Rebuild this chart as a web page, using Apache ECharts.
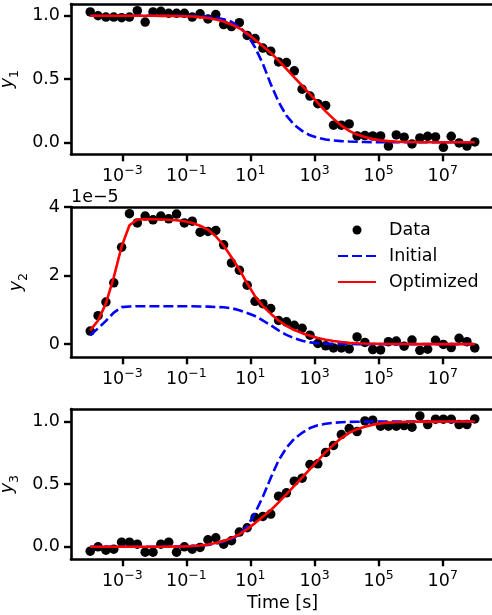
<!DOCTYPE html>
<html>
<head>
<meta charset="utf-8">
<script src="https://cdn.jsdelivr.net/npm/echarts@6.0.0/dist/echarts.min.js"></script>
<style>
  html, body { margin: 0; padding: 0; background: #fff; }
  #chart { width: 492px; height: 615px; }
</style>
</head>
<body>
<div id="chart"></div>
<script>
// log10 of the sample times [s]
const timeExp = [-4, -3.7551, -3.5102, -3.2653, -3.0204, -2.7755, -2.5306, -2.2857, -2.0408, -1.7959,
  -1.5510, -1.3061, -1.0612, -0.8163, -0.5714, -0.3265, -0.0816, 0.1633, 0.4082, 0.6531,
  0.8980, 1.1429, 1.3878, 1.6327, 1.8776, 2.1224, 2.3673, 2.6122, 2.8571, 3.1020,
  3.3469, 3.5918, 3.8367, 4.0816, 4.3265, 4.5714, 4.8163, 5.0612, 5.3061, 5.5510,
  5.7959, 6.0408, 6.2857, 6.5306, 6.7755, 7.0204, 7.2653, 7.5102, 7.7551, 8];

const y1Data = [1.03, 1.00, 0.99, 0.99, 0.985, 0.99, 1.04, 0.95, 1.03, 1.035,
  1.02, 1.02, 1.02, 0.99, 1.015, 0.975, 1.01, 0.93, 0.915, 0.945,
  0.845, 0.82, 0.745, 0.72, 0.635, 0.63, 0.565, 0.42, 0.365, 0.305,
  0.29, 0.135, 0.135, 0.145, 0.05, 0.053, 0.05, 0.05, -0.03, 0.058,
  0.04, -0.013, 0.034, 0.047, 0.042, -0.04, 0.047, -0.005, -0.03, 0.003];
const y1Initial = [1, 1, 1, 1, 1, 1, 1, 1, 1, 1,
  1, 1, 0.999, 0.998, 0.996, 0.992, 0.985, 0.973, 0.952, 0.912,
  0.852, 0.75, 0.62, 0.46, 0.32, 0.21, 0.138, 0.09, 0.055, 0.035,
  0.022, 0.014, 0.009, 0.006, 0.004, 0.002, 0.001, 0.0005, 0.0003, 0.0002,
  0.0001, 0, 0, 0, 0, 0, 0, 0, 0, 0];
const y1Optimized = [1, 1, 0.9999, 0.9999, 0.9999, 0.9999, 0.9998, 0.9998, 0.9996, 0.9993,
  0.9988, 0.998, 0.9965, 0.994, 0.9895, 0.9825, 0.970, 0.954, 0.931, 0.901,
  0.859, 0.811, 0.760, 0.708, 0.646, 0.580, 0.513, 0.447, 0.380, 0.312,
  0.244, 0.185, 0.132, 0.090, 0.061, 0.041, 0.025, 0.015, 0.0091, 0.0055,
  0.0032, 0.0019, 0.0011, 0.0006, 0.00035, 0.0002, 0.00012, 0.00007, 0.00004, 0.00002];

// y2 in units of 1e-5
const y2Data = [0.38, 0.83, 1.23, 1.79, 2.83, 3.81, 3.54, 3.74, 3.63, 3.74,
  3.66, 3.80, 3.54, 3.59, 3.27, 3.29, 3.32, 2.90, 2.37, 2.16,
  1.72, 1.25, 1.18, 1.04, 0.69, 0.65, 0.55, 0.46, 0.26, 0.02,
  -0.05, -0.11, -0.11, -0.14, 0.21, 0.05, -0.16, -0.17, 0.07, 0.09,
  -0.06, 0.12, -0.18, -0.15, 0.11, -0.01, -0.10, 0.17, 0.07, -0.11];
const y2Initial = [0.26, 0.46, 0.68, 0.92, 1.08, 1.10, 1.107, 1.107, 1.107, 1.107,
  1.107, 1.107, 1.106, 1.105, 1.10, 1.095, 1.085, 1.075, 1.05, 0.99,
  0.91, 0.82, 0.69, 0.55, 0.40, 0.27, 0.17, 0.10, 0.05, 0.03,
  0.015, 0.008, 0.004, 0.002, 0.001, 0.0005, 0.0002, 0.0001, 0, 0,
  0, 0, 0, 0, 0, 0, 0, 0, 0, 0];
const y2Optimized = [0.40, 0.69, 1.19, 1.95, 2.85, 3.47, 3.64, 3.65, 3.646, 3.64,
  3.633, 3.62, 3.59, 3.54, 3.46, 3.34, 3.15, 2.88, 2.54, 2.18,
  1.77, 1.40, 1.11, 0.89, 0.69, 0.53, 0.41, 0.32, 0.242, 0.18,
  0.129, 0.091, 0.061, 0.040, 0.026, 0.017, 0.0103, 0.0061, 0.0037, 0.0022,
  0.0013, 0.0008, 0.0004, 0.0002, 0.0001, 0.0001, 0, 0, 0, 0];

const y3Data = [-0.035, 0.0, -0.027, -0.019, 0.037, 0.037, 0.021, -0.043, -0.043, 0.021,
  0.037, -0.043, 0.0, -0.019, -0.005, 0.056, 0.072, 0.021, 0.048, 0.117,
  0.152, 0.234, 0.242, 0.261, 0.404, 0.431, 0.524, 0.548, 0.657, 0.662,
  0.753, 0.809, 0.896, 0.944, 0.920, 1.005, 1.011, 0.963, 0.963, 0.963,
  0.968, 0.955, 1.045, 0.976, 1.019, 1.019, 1.019, 0.976, 0.976, 1.021];
const y3Initial = [0, 0, 0, 0, 0, 0, 0, 0, 0, 0,
  0.001, 0.002, 0.003, 0.005, 0.009, 0.015, 0.025, 0.04, 0.06, 0.098,
  0.16, 0.27, 0.40, 0.55, 0.69, 0.79, 0.862, 0.91, 0.948, 0.97,
  0.982, 0.99, 0.994, 0.997, 0.998, 0.999, 1, 1, 1, 1,
  1, 1, 1, 1, 1, 1, 1, 1, 1, 1];
const y3Optimized = [0, 0, 0.0001, 0.0001, 0.0001, 0.0001, 0.0002, 0.0002, 0.0004, 0.0007,
  0.0012, 0.002, 0.0035, 0.006, 0.0105, 0.0175, 0.030, 0.046, 0.069, 0.099,
  0.141, 0.189, 0.240, 0.292, 0.354, 0.420, 0.487, 0.553, 0.620, 0.688,
  0.756, 0.815, 0.868, 0.910, 0.939, 0.959, 0.975, 0.985, 0.9909, 0.9945,
  0.9968, 0.9981, 0.9989, 0.9994, 0.9996, 0.9998, 0.9999, 0.9999, 1, 1];

const xTickExp = [-3, -1, 1, 3, 5, 7];
const y1Ticks = [0, 0.5, 1];
const y2Ticks = [0, 2, 4];
const y3Ticks = [0, 0.5, 1];

const FONT = 'DejaVu Sans';
const FS = 17.5;
const times = timeExp.map((e) => Math.pow(10, e));
const pairs = (ys) => ys.map((y, i) => [times[i], y]);
const xTicks = xTickExp.map((e) => Math.pow(10, e));
const xMin = Math.pow(10, -4.6);
const xMax = Math.pow(10, 8.6);

const panels = [
  { top: 4, min: -0.095, max: 1.093, ticks: y1Ticks, digits: 1, sub: '1', data: y1Data, init: y1Initial, opt: y1Optimized },
  { top: 207, min: -0.385, max: 4.005, ticks: y2Ticks, digits: 0, sub: '2', data: y2Data, init: y2Initial, opt: y2Optimized },
  { top: 409, min: -0.1, max: 1.1, ticks: y3Ticks, digits: 1, sub: '3', data: y3Data, init: y3Initial, opt: y3Optimized }
];

const black = '#000';
const spine = { color: black, width: 2.6 };

const chart = echarts.init(document.getElementById('chart'));

const bottomAxes = panels.map((p, i) => ({
  type: 'log', logBase: 10, gridIndex: i, position: 'bottom',
  min: xMin, max: xMax,
  axisLine: { show: true, onZero: false, lineStyle: spine },
  axisTick: { show: true, length: 7, customValues: xTicks, lineStyle: { color: black, width: 2.4 } },
  minorTick: { show: false },
  splitLine: { show: false },
  axisLabel: {
    customValues: xTicks,
    margin: 10,
    formatter: (v) => {
      const e = Math.round(Math.log10(v));
      return '{b|10}{s|' + (e < 0 ? '\u2212' + (-e) : e) + '}';
    },
    rich: {
      b: { fontFamily: FONT, fontSize: FS, color: black, verticalAlign: 'bottom' },
      s: { fontFamily: FONT, fontSize: 12.5, color: black, verticalAlign: 'bottom', padding: [0, 0, 8, 0] }
    }
  },
  name: i === 2 ? 'Time [s]' : '',
  nameLocation: 'middle',
  nameGap: 35,
  nameTextStyle: { fontFamily: FONT, fontSize: FS, color: black }
}));

// top spine only (the right spine falls outside the picture)
const topAxes = panels.map((p, i) => ({
  type: 'log', logBase: 10, gridIndex: i, position: 'top',
  min: xMin, max: xMax,
  axisLine: { show: true, onZero: false, lineStyle: spine },
  axisTick: { show: false },
  axisLabel: { show: false },
  splitLine: { show: false },
  minorTick: { show: false }
}));

const option = {
  animation: false,
  backgroundColor: '#fff',
  textStyle: { fontFamily: FONT, color: black },
  grid: panels.map((p) => ({
    left: 71, width: 423, top: p.top, height: 150.3,
    outerBoundsMode: 'none', containLabel: false, show: false
  })),
  xAxis: bottomAxes.concat(topAxes),
  yAxis: panels.map((p, i) => ({
    type: 'value', gridIndex: i, min: p.min, max: p.max,
    axisLine: { show: true, onZero: false, lineStyle: spine },
    axisTick: { show: true, length: 7, customValues: p.ticks, lineStyle: { color: black, width: 2.4 } },
    splitLine: { show: false },
    axisLabel: {
      customValues: p.ticks,
      margin: 11,
      fontFamily: FONT, fontSize: FS, color: black,
      formatter: (v) => Number(v).toFixed(p.digits)
    },
    name: '{v|y}{s|' + p.sub + '}',
    nameLocation: 'middle',
    nameGap: 41,
    nameTextStyle: {
      rich: {
        v: { fontFamily: FONT, fontSize: FS, fontStyle: 'italic', color: black, verticalAlign: 'bottom', padding: [0, 0, 5, 0] },
        s: { fontFamily: FONT, fontSize: 12.5, color: black, verticalAlign: 'bottom' }
      }
    }
  })),
  legend: {
    orient: 'vertical', left: 337, top: 221, padding: 0,
    itemWidth: 38, itemHeight: 9, itemGap: 8,
    selectedMode: false,
    textStyle: { fontFamily: FONT, fontSize: FS, color: black, padding: [0, 0, 0, 8] },
    data: [
      { name: 'Data' },
      { name: 'Initial', itemStyle: { opacity: 0 } },
      { name: 'Optimized', itemStyle: { opacity: 0 } }
    ]
  },
  graphic: [{
    type: 'text', left: 71, top: 188,
    style: { text: '1e\u22125', fontFamily: FONT, fontSize: FS, fill: black }
  }],
  series: panels.flatMap((p, i) => [
    {
      name: 'Data', type: 'scatter', xAxisIndex: i, yAxisIndex: i,
      data: pairs(p.data), symbolSize: 9.5, itemStyle: { color: black, opacity: 1 }, z: 2
    },
    {
      name: 'Initial', type: 'line', xAxisIndex: i, yAxisIndex: i,
      data: pairs(p.init), symbol: 'none',
      lineStyle: { color: '#0000ff', width: 2.6, type: [10, 4] },
      itemStyle: { color: '#0000ff' }, z: 3
    },
    {
      name: 'Optimized', type: 'line', xAxisIndex: i, yAxisIndex: i,
      data: pairs(p.opt), symbol: 'none',
      lineStyle: { color: '#ff0000', width: 2.6 },
      itemStyle: { color: '#ff0000' }, z: 4
    }
  ])
};

chart.setOption(option);
</script>
</body>
</html>
